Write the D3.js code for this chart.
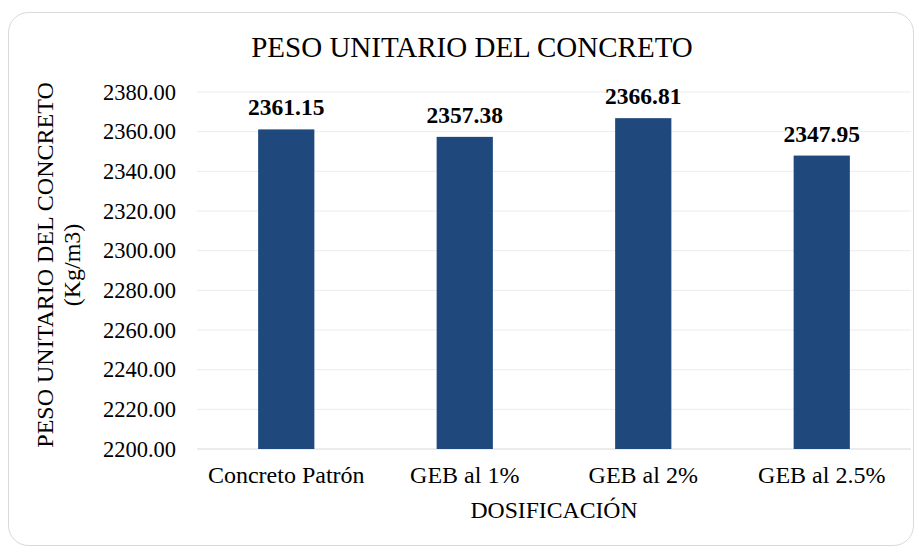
<!DOCTYPE html>
<html><head><meta charset="utf-8">
<script src="https://cdn.jsdelivr.net/npm/d3@7"></script>
<style>body{margin:0;background:#fff;} svg{display:block;}</style>
</head><body>
<script>
const categories = ["Concreto Patrón", "GEB al 1%", "GEB al 2%", "GEB al 2.5%"];
const values = [2361.15, 2357.38, 2366.81, 2347.95];
const yTicks = [2200, 2220, 2240, 2260, 2280, 2300, 2320, 2340, 2360, 2380];
const title = "PESO UNITARIO DEL CONCRETO";
const yTitle = ["PESO UNITARIO DEL CONCRETO", "(Kg/m3)"];
const xTitle = "DOSIFICACIÓN";

const W = 922, H = 547;
const font = "'Liberation Serif','Times New Roman',serif";
const svg = d3.select("body").append("svg").attr("width", W).attr("height", H);

svg.append("rect").attr("x", 8.5).attr("y", 12.5).attr("width", 905).attr("height", 533)
  .attr("rx", 20).attr("fill", "#fff").attr("stroke", "#d9d9d9").attr("stroke-width", 1);

const m = {left: 197, right: 911, top: 92, bottom: 449};
const x = d3.scaleBand().domain(categories).range([m.left, m.right]).paddingInner(0.685).paddingOuter(0.3425);
const y = d3.scaleLinear().domain([2200, 2380]).range([m.bottom, m.top]);

// gridlines
svg.append("g").selectAll("line").data(yTicks).join("line")
  .attr("x1", m.left).attr("x2", m.right)
  .attr("y1", d => y(d)).attr("y2", d => y(d))
  .attr("stroke", d => d === 2200 ? "#d9d9d9" : "#ececec").attr("stroke-width", 1);

// y axis labels
const yAxis = d3.axisLeft(y).tickValues(yTicks).tickFormat(d3.format(".2f")).tickSize(0).tickPadding(0);
const ga = svg.append("g").attr("transform", `translate(176,0)`).call(yAxis);
ga.select(".domain").remove();
ga.selectAll("text").attr("font-family", font).attr("font-size", 22.5).attr("fill", "#000");

// bars
svg.append("g").selectAll("rect").data(values).join("rect")
  .attr("x", (d, i) => x(categories[i])).attr("width", x.bandwidth())
  .attr("y", d => y(d)).attr("height", d => y(2200) - y(d))
  .attr("fill", "#1f497d");

// value labels
svg.append("g").selectAll("text").data(values).join("text")
  .attr("x", (d, i) => x(categories[i]) + x.bandwidth() / 2)
  .attr("y", d => y(d) - 14)
  .attr("text-anchor", "middle").attr("font-family", font).attr("font-weight", "bold")
  .attr("font-size", 23.5).attr("fill", "#000")
  .text(d => d3.format(".2f")(d));

// x axis labels
const xAxis = d3.axisBottom(x).tickSize(0).tickPadding(0);
const gx = svg.append("g").attr("transform", `translate(0,${m.bottom + 17})`).call(xAxis);
gx.select(".domain").remove();
gx.selectAll("text").attr("font-family", font).attr("font-size", 24).attr("fill", "#000").attr("dy", "0.71em");

// titles
svg.append("text").attr("x", 472).attr("y", 57).attr("text-anchor", "middle")
  .attr("font-family", font).attr("font-size", 29).attr("fill", "#000").text(title);
svg.append("text").attr("x", (m.left + m.right) / 2).attr("y", 518).attr("text-anchor", "middle")
  .attr("font-family", font).attr("font-size", 23.7).attr("fill", "#000").text(xTitle);
const yt = svg.append("text").attr("transform", `translate(0,265) rotate(-90)`)
  .attr("text-anchor", "middle").attr("font-family", font).attr("font-size", 24).attr("fill", "#000");
yt.append("tspan").attr("x", 0).attr("y", 53).text(yTitle[0]);
yt.append("tspan").attr("x", 0).attr("y", 80).text(yTitle[1]);
</script>
</body></html>
